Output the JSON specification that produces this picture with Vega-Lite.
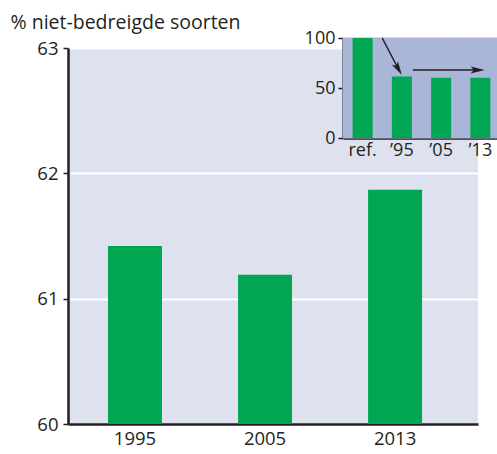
{
  "$schema": "https://vega.github.io/schema/vega-lite/v6.json",
  "autosize": "none",
  "width": 410,
  "height": 376,
  "padding": {"left": 68, "top": 48, "right": 19, "bottom": 30},
  "background": "white",
  "view": {"fill": "#dde2ee", "stroke": null},
  "config": {
    "font": "Open Sans",
    "axis": {
      "labelFont": "Open Sans",
      "titleFont": "Open Sans",
      "labelColor": "#231f20",
      "titleColor": "#231f20",
      "domainColor": "#231f20",
      "tickColor": "#231f20"
    }
  },
  "layer": [
    {
      "data": {"values": [
        {"jaar": "1995", "waarde": 61.42},
        {"jaar": "2005", "waarde": 61.19},
        {"jaar": "2013", "waarde": 61.87}
      ]},
      "mark": {"type": "bar", "color": "#00a651"},
      "encoding": {
        "x": {
          "field": "jaar", "type": "nominal",
          "scale": {"paddingInner": 0.585, "paddingOuter": 0.369, "align": 0.417},
          "axis": {"title": null, "labelAngle": 0, "labelFontSize": 18.5, "ticks": false, "labelPadding": 5, "domainWidth": 2.5, "grid": false}
        },
        "y": {
          "field": "waarde", "type": "quantitative",
          "scale": {"domain": [60, 63], "zero": false, "nice": false},
          "axis": {
            "values": [60, 61, 62, 63],
            "title": "% niet-bedreigde soorten",
            "titleAngle": 0, "titleAlign": "left", "titleBaseline": "alphabetic",
            "titleX": -58, "titleY": -20, "titleFontSize": 19.5, "titleFontWeight": "normal",
            "labelFontSize": 18.5, "tickSize": 5, "tickWidth": 1.5, "labelPadding": 5,
            "domainWidth": 2.5, "grid": true, "gridColor": "white", "gridWidth": 2
          }
        },
        "y2": {"datum": 60}
      }
    },
    {
      "data": {"values": [
        {"periode": "ref.", "index": 100},
        {"periode": "’95", "index": 61.4},
        {"periode": "’05", "index": 60.2},
        {"periode": "’13", "index": 60.3}
      ]},
      "encoding": {
        "x": {
          "field": "periode", "type": "nominal", "sort": null,
          "scale": {"range": [275, 432], "paddingInner": 0, "paddingOuter": 0},
          "axis": {"title": null, "labelAngle": 0, "labelFontSize": 18, "ticks": false, "labelPadding": 3, "domainWidth": 2.5, "grid": false, "orient": "bottom", "offset": -286}
        },
        "y": {
          "type": "quantitative",
          "scale": {"domain": [0, 100], "range": [90, -10], "nice": false},
          "axis": {"values": [0, 50, 100], "title": null, "labelFontSize": 18, "tickSize": 5, "tickWidth": 1.5, "labelPadding": 3, "domainWidth": 2.5, "grid": false, "orient": "left", "offset": -275}
        }
      },
      "layer": [
        {
          "mark": {"type": "bar", "color": "#aab6d7", "stroke": "#aab6d7", "strokeWidth": 1},
          "encoding": {"y": {"datum": 100}, "y2": {"datum": 0}}
        },
        {
          "mark": {"type": "bar", "color": "#00a651", "width": {"band": 0.51}},
          "encoding": {"y": {"field": "index"}, "y2": {"datum": 0}}
        },
        {
          "data": {"values": [{"van": "’95", "naar": "’95", "boven": 100, "onder": 69}]},
          "mark": {"type": "rule", "color": "#231f20", "strokeWidth": 1.5},
          "encoding": {
            "x": {"field": "van", "type": "nominal", "bandPosition": 0},
            "x2": {"field": "naar", "bandPosition": 0.41},
            "y": {"field": "boven", "type": "quantitative"},
            "y2": {"field": "onder"}
          }
        },
        {
          "data": {"values": [{"punt": "’95", "y": 69}]},
          "mark": {"type": "point", "filled": true, "color": "#231f20", "opacity": 1, "size": 196, "angle": 60, "shape": "M1,0L-1,-0.5L-0.55,0L-1,0.5Z"},
          "encoding": {
            "x": {"field": "punt", "type": "nominal", "bandPosition": 0.41},
            "y": {"field": "y", "type": "quantitative"}
          }
        },
        {
          "data": {"values": [{"van": "’95", "naar": "’13", "hoogte": 68}]},
          "mark": {"type": "rule", "color": "#231f20", "strokeWidth": 1.5},
          "encoding": {
            "x": {"field": "van", "type": "nominal", "bandPosition": 0.78},
            "x2": {"field": "naar", "bandPosition": 0.43},
            "y": {"field": "hoogte", "type": "quantitative"}
          }
        },
        {
          "data": {"values": [{"punt": "’13", "y": 68}]},
          "mark": {"type": "point", "filled": true, "color": "#231f20", "opacity": 1, "size": 196, "angle": 0, "shape": "M1,0L-1,-0.5L-0.55,0L-1,0.5Z"},
          "encoding": {
            "x": {"field": "punt", "type": "nominal", "bandPosition": 0.43},
            "y": {"field": "y", "type": "quantitative"}
          }
        }
      ]
    }
  ],
  "resolve": {
    "scale": {"x": "independent", "y": "independent"},
    "axis": {"x": "independent", "y": "independent"}
  }
}
